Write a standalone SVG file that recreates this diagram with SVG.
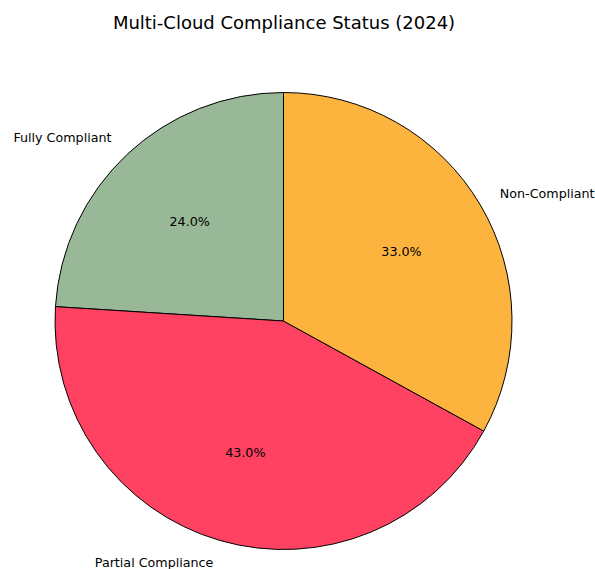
<svg xmlns="http://www.w3.org/2000/svg" width="595" height="569" viewBox="0 0 595 569">
<style>
.w{stroke:#000;stroke-width:1;stroke-linejoin:round}
.t{font-family:"DejaVu Sans",sans-serif;font-size:12.7px;fill:#000}
.title{font-family:"DejaVu Sans",sans-serif;font-size:18px;fill:#000}
</style>
<rect width="595" height="569" fill="#fff"/>
<text class="title" x="284" y="28.5" text-anchor="middle">Multi-Cloud Compliance Status (2024)</text>
<g id="fully">
<path class="w" fill="#99B898" d="M283.5,321 L283.5,92.5 A228.5,228.5 0 0 0 55.45,306.65 Z"/>
<text class="t" x="111.5" y="142.3" text-anchor="end">Fully Compliant</text>
<text class="t" x="189.7" y="225.6" text-anchor="middle">24.0%</text>
</g>
<g id="partial">
<path class="w" fill="#FF4162" d="M283.5,321 L55.45,306.65 A228.5,228.5 0 0 0 483.74,431.08 Z"/>
<text class="t" x="213.4" y="566.8" text-anchor="end">Partial Compliance</text>
<text class="t" x="245.3" y="457.2" text-anchor="middle">43.0%</text>
</g>
<g id="noncompliant">
<path class="w" fill="#FDB43E" d="M283.5,321 L483.74,431.08 A228.5,228.5 0 0 0 283.5,92.5 Z"/>
<text class="t" x="499.8" y="197.6" text-anchor="start">Non-Compliant</text>
<text class="t" x="401.5" y="255.8" text-anchor="middle">33.0%</text>
</g>
<g id="connectors"></g>
</svg>
